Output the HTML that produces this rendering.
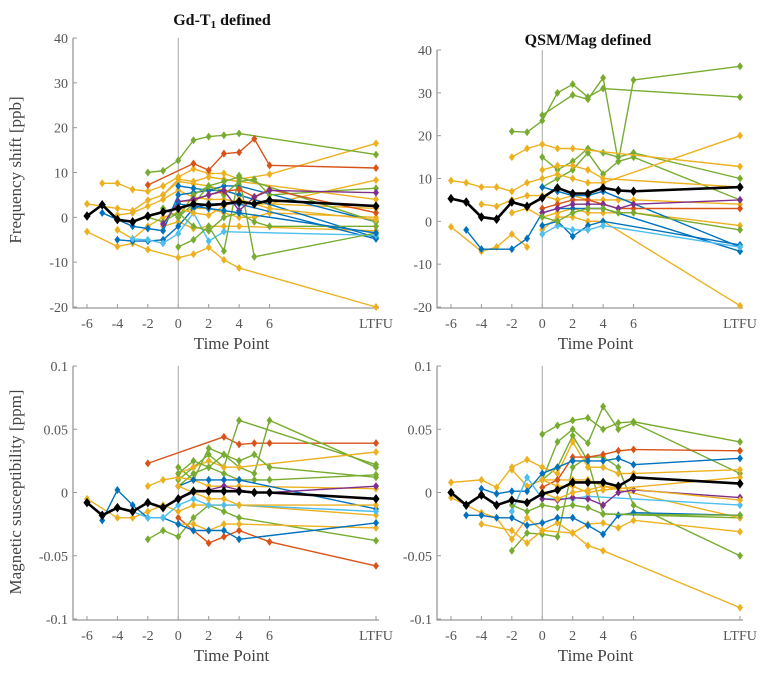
<!DOCTYPE html>
<html><head><meta charset="utf-8"><style>
body{margin:0;background:#fff;}
svg{display:block;font-family:"Liberation Serif",serif;}
</style></head><body>
<svg id="fig" width="766" height="678" viewBox="0 0 766 678" xmlns="http://www.w3.org/2000/svg">
<text x="222" y="25" text-anchor="middle" font-size="16" font-weight="bold" fill="#111">Gd-T<tspan font-size="11" dy="3">1</tspan><tspan dy="-3"> defined</tspan></text>
<text x="588" y="45" text-anchor="middle" font-size="16" font-weight="bold" fill="#111">QSM/Mag defined</text>
<text transform="translate(21,170) rotate(-90)" text-anchor="middle" font-size="17" fill="#444">Frequency shift [ppb]</text>
<text transform="translate(21,492) rotate(-90)" text-anchor="middle" font-size="17" fill="#444">Magnetic susceptibility [ppm]</text>
</svg>
<script>
const timeLabels=["-6","-4","-2","0","2","4","6","LTFU"];
const timeTickVals=[-6,-4,-2,0,2,4,6,13];
const timeX=[-6,-5,-4,-3,-2,-1,0,1,2,3,4,5,6,13];
const freqTicks=[-20,-10,0,10,20,30,40];
const suscTicks=[-0.1,-0.05,0,0.05,0.1];
const C={b:"#0072BD",o:"#D95319",y:"#EDB120",p:"#7E2F8E",g:"#77AC30",c:"#4DBEEE"};
const n=null;
// Top-left Gd-T1 frequency shift
const tlColors=["y","y","y","y","y","y","y","b","b","b","c","g","g","g","g","g","o","o","p","y","b"];
const tlSeries=[
[n,7.6,7.6,6.2,5.8,7,9,10.8,9.8,9.8,8.5,n,9.6,16.5],
[3,n,2,1.5,3.8,5,8,7.5,7,6,5,4,3,8.3],
[-3.2,n,-6.5,-5.8,-7.2,n,-9,-8.2,-6.7,-9.5,-11.3,n,n,-20],
[n,n,-2.8,-4.8,-2,0,1,2,2,1,0,0,1,0],
[n,n,n,n,n,-2,-1,-2.5,-2,-2,-2,n,n,-3],
[n,n,n,n,n,5,8.5,8,9,8.5,8,n,n,4],
[n,n,0.5,1,2.5,4,6,4.5,4,4,3.5,3,3,2],
[n,1,n,-2,-2.5,-3,5,5.5,6,6,5,n,n,-4.5],
[n,n,-5,-5.3,-5.3,-5,-2,2,3,3,3,n,n,-4.8],
[n,n,n,n,n,n,7,6.5,6,7,7,n,n,-1],
[n,n,n,-4.8,-5,-5.8,-3.6,1,-5.3,-3.2,n,n,n,-4],
[n,n,n,n,10,10.4,12.7,17.2,18,18.3,18.7,n,n,14],
[n,n,n,n,n,n,-6.6,-5,-2,-7.5,9.3,-8.8,n,-3.5],
[n,n,n,n,0,-1,1,-2,-3,0,1,-1,-2,-2],
[n,n,n,n,n,2,0,3,7,5,8,8.5,5,6.5],
[n,n,n,n,n,n,0,5,7,8,9,n,n,-1],
[n,n,n,n,7.2,n,n,12,10.5,14.2,14.5,17.5,11.6,11],
[n,n,n,n,n,n,3.5,3.8,5,5.8,6.2,4.6,6.2,1],
[n,n,n,n,n,-1.5,3.5,4,5,6,1.5,4.5,6,5.5],
[n,n,n,n,n,n,2,1,0.5,2.5,4,3,2,-0.5],
[n,n,n,n,n,n,3,2.5,2,1.5,1,n,n,-3.5]];
const tlMean=[0.3,2.8,-0.5,-1,0.3,1.2,2,3,2.7,3,3.5,3,3.8,2.5];
// Top-right QSM frequency shift
const trColors=["g","g","g","g","y","y","y","y","y","y","b","b","b","c","o","p","g","y"];
const trSeries=[
[n,n,n,n,21,20.8,23.5,30,32,29,31,n,n,29],
[n,n,n,n,n,n,24.8,n,29.5,28.5,33.5,14,33,36.2],
[n,n,n,n,n,n,15,12,14,17,16,15,16,10],
[n,n,n,n,n,n,8,10,12,16,11,14,15,5],
[9.5,9,8,8,7,9,10,11,10,9,9,n,n,20],
[n,n,n,n,15,17,18,17,17,n,n,n,n,12.8],
[-1.3,n,-7,-6,-3,-6,n,n,n,n,n,n,n,n],
[n,n,n,n,n,n,-2,1,1,0,0,n,n,-19.7],
[n,n,4,3.5,5,6,6,5,6,5,5,5,5,4],
[n,n,n,n,2,3,1,2,3,2,2,2,2,-1],
[n,-2,-6.5,n,-6.5,-4,2,3,3,3,3,n,n,-7],
[n,n,n,n,n,n,8,7,6,6,7,n,n,-6],
[n,n,n,n,n,n,-1,0,-3.5,-1,0,n,n,-5.5],
[n,n,n,n,n,n,-3,-1,-2,-2,-1,n,n,-6],
[n,n,n,n,n,n,3,4,5,5,4,3,3,3],
[n,n,n,n,n,n,2,3,4,4,4,3,4,5],
[n,n,n,n,n,n,1,0,2,3,3,2,2,-2],
[n,n,n,n,n,n,12,13,13,12,10,n,n,8]];
const trMean=[5.3,4.5,1,0.5,4.5,3.5,5.5,7.8,6.5,6.5,7.8,7.2,7,8];
// Bottom-left Gd-T1 susceptibility
const blColors=["o","o","g","g","g","g","y","y","y","y","b","b","c","p","y","g"];
const blSeries=[
[n,n,n,n,0.023,n,n,n,n,0.044,0.038,0.039,0.039,0.039],
[n,n,n,n,n,n,-0.02,-0.03,-0.04,-0.035,-0.03,n,-0.039,-0.058],
[n,n,n,n,n,n,0.01,0.02,0.03,0.02,0.057,n,n,0.022],
[n,n,n,n,n,n,0.02,0.01,0.035,0.03,0.02,0.015,0.057,0.02],
[n,n,n,n,-0.037,-0.03,-0.035,-0.02,-0.01,-0.015,-0.02,n,n,-0.038],
[n,n,n,n,n,n,0.005,0.015,0.02,0.015,0.01,0.01,0.01,0.014],
[-0.005,n,-0.02,-0.02,-0.015,-0.01,-0.015,-0.01,-0.01,-0.01,-0.01,n,n,-0.018],
[n,n,n,n,n,n,0.015,0.02,0.025,0.02,0.02,n,n,0.032],
[n,n,n,n,0.005,0.01,0.012,0.01,0.005,0.005,0.005,n,n,0.003],
[n,n,n,n,n,n,-0.025,-0.025,-0.03,-0.025,-0.025,n,n,-0.028],
[n,-0.022,0.002,-0.01,-0.02,-0.02,-0.025,-0.03,-0.03,-0.03,-0.037,n,n,-0.024],
[n,n,n,n,n,n,0.005,0.01,0.01,0.01,0.01,n,n,-0.013],
[n,n,n,-0.015,-0.02,-0.02,-0.01,-0.005,-0.01,-0.01,-0.01,n,n,-0.015],
[n,n,n,n,n,n,-0.005,0,0.002,0.005,0.002,0,0,0.005],
[n,n,n,n,n,n,0.005,0,-0.005,-0.005,-0.01,n,n,-0.01],
[n,n,n,n,n,n,0.015,0.025,0.02,0.03,0.025,0.03,0.02,0.012]];
const blMean=[-0.008,-0.018,-0.012,-0.015,-0.008,-0.012,-0.005,0.001,0.001,0.001,0.001,0,0,-0.005];
// Bottom-right QSM susceptibility
const brColors=["g","g","g","g","y","y","y","y","o","b","b","c","p","y","g","y"];
const brSeries=[
[n,n,n,n,n,n,0.046,0.053,0.057,0.059,0.05,0.055,0.056,0.04],
[n,n,n,n,n,n,0.01,0.04,0.05,0.039,0.068,0.05,0.055,0.015],
[n,n,n,n,-0.046,-0.032,-0.033,-0.035,0.02,0.028,0.028,0.02,-0.01,-0.05],
[n,n,n,n,n,n,0.01,0.02,0.045,0.025,-0.017,n,n,-0.02],
[n,n,-0.025,n,-0.03,-0.04,-0.03,n,-0.032,-0.042,-0.046,n,n,-0.091],
[0.008,n,0.01,0.004,0.02,0.026,0.02,0.015,0.04,0.02,0.02,0.015,0.015,0.018],
[-0.004,n,-0.016,-0.02,-0.037,-0.02,-0.03,-0.024,-0.032,-0.025,-0.024,-0.028,-0.022,-0.031],
[n,n,n,n,0.018,0.005,0.01,0.01,0.01,0.01,0.005,n,n,-0.02],
[n,n,n,n,n,n,0.004,0.01,0.028,0.028,0.03,0.033,0.034,0.033],
[n,-0.018,-0.018,-0.02,-0.02,-0.026,-0.024,-0.02,-0.02,-0.026,-0.033,-0.018,-0.016,-0.018],
[n,n,0.003,-0.001,0.001,0.001,0.015,0.02,0.025,0.025,0.025,0.027,0.022,0.027],
[n,n,n,n,-0.015,0.012,-0.005,-0.005,-0.005,-0.003,n,n,n,-0.01],
[n,n,n,n,n,n,-0.005,-0.006,-0.004,-0.005,-0.01,0,0.002,-0.004],
[n,n,n,n,n,n,0,-0.005,0,0.002,0.005,n,n,-0.006],
[n,n,n,n,-0.01,-0.015,-0.01,-0.012,-0.01,-0.012,-0.017,n,n,-0.018],
[n,n,n,n,n,n,0.01,0.005,0.005,0,0.002,n,n,0.012]];
const brMean=[0,-0.01,-0.002,-0.01,-0.006,-0.008,-0.001,0.002,0.008,0.008,0.008,0.005,0.012,0.007];

const svg=document.getElementById('fig');
const NS="http://www.w3.org/2000/svg";
function mk(tag,attrs,parent){const e=document.createElementNS(NS,tag);for(const k in attrs)e.setAttribute(k,attrs[k]);(parent||svg).appendChild(e);return e;}

function drawPanel(name,box,yTicks,yMin,yMax,fmt,series,colors,mean){
  const g=mk('g',{});
  
  
  const sx=v=>box.x0+(v+6)*(box.x13-box.x0)/19;
  const sy=v=>box.yb-(v-yMin)*(box.yb-box.yt)/(yMax-yMin);
  const ax=mk('path',{d:`M${box.axL},${box.yt} V${box.yb+1} H${box.axR}`,stroke:'#999',fill:'none','stroke-width':1.3},g);
  
  
  yTicks.forEach(t=>{
    mk('line',{x1:box.axL,x2:box.axL+4,y1:sy(t),y2:sy(t),stroke:'#999'},g);
    const tx=mk('text',{x:box.axL-5,y:sy(t)+5,'text-anchor':'end','font-size':14,fill:'#555'},g);
    tx.textContent=fmt(t);
    
    
  });
  timeTickVals.forEach((t,i)=>{
    mk('line',{x1:sx(t),x2:sx(t),y1:box.yb+1,y2:box.yb-3,stroke:'#999'},g);
    const tx=mk('text',{x:sx(t),y:box.yb+21,'text-anchor':'middle','font-size':14,fill:'#555'},g);
    tx.textContent=timeLabels[i];
    
    
  });
  const vl=mk('line',{x1:sx(0),x2:sx(0),y1:box.yt,y2:box.yb,stroke:'#aaa','stroke-width':1},g);
  
  
  const xt=mk('text',{x:(sx(-6)+sx(13))/2,y:box.yb+42,'text-anchor':'middle','font-size':17,fill:'#444'},g);
  xt.textContent='Time Point';
  
  
  function line(vals,col,w,ms,nm){
    const sg=mk('g',{},g);
    
    
    let d='';
    vals.forEach((v,i)=>{if(v===null)return;d+=(d?'L':'M')+sx(timeX[i]).toFixed(1)+','+sy(v).toFixed(1);});
    mk('path',{d:d,stroke:col,fill:'none','stroke-width':w},sg);
    vals.forEach((v,i)=>{if(v===null)return;const x=sx(timeX[i]),y=sy(v);
      mk('path',{d:`M${x},${y-ms}L${x+ms*0.75},${y}L${x},${y+ms}L${x-ms*0.75},${y}Z`,fill:col},sg);});
  }
  series.forEach((s,i)=>line(s,C[colors[i]],1.4,4,'subject-series'));
  line(mean,'#000',2.6,4.8,'mean-series');
}
const f1=t=>String(t);
drawPanel('panel-gd-frequency',{x0:87,x13:376,axL:73,axR:379,yt:38,yb:307},freqTicks,-20,40,f1,tlSeries,tlColors,tlMean);
drawPanel('panel-qsm-frequency',{x0:451,x13:740,axL:437,axR:743,yt:50,yb:307},freqTicks,-20,40,f1,trSeries,trColors,trMean);
drawPanel('panel-gd-susceptibility',{x0:87,x13:376,axL:73,axR:379,yt:366,yb:619},suscTicks,-0.1,0.1,f1,blSeries,blColors,blMean);
drawPanel('panel-qsm-susceptibility',{x0:451,x13:740,axL:437,axR:743,yt:366,yb:619},suscTicks,-0.1,0.1,f1,brSeries,brColors,brMean);
</script>
</body></html>
